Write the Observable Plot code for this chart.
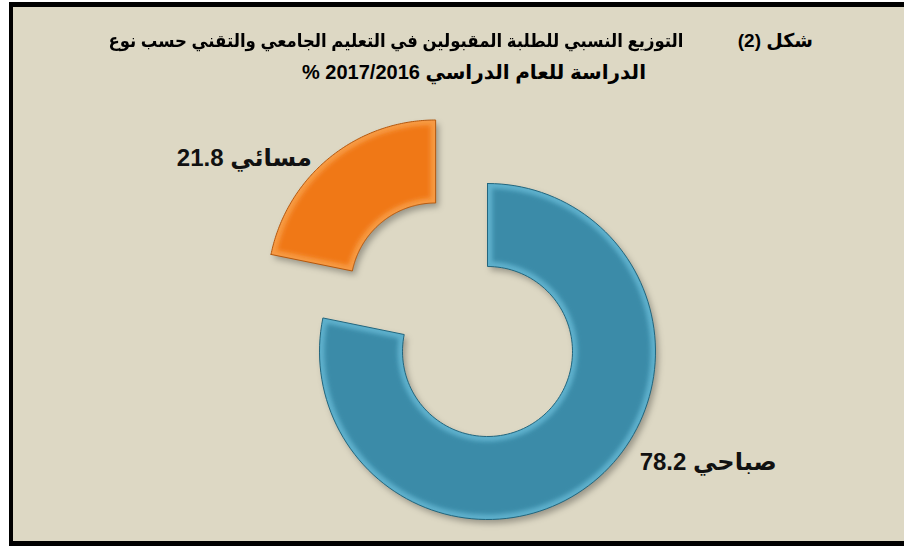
<!DOCTYPE html>
<html><head><meta charset="utf-8">
<script src="https://cdn.jsdelivr.net/npm/d3@7"></script>
<script src="https://cdn.jsdelivr.net/npm/@observablehq/plot@0.6"></script>
<style>
body{margin:0;background:#fff;}
#wrap{position:relative;width:904px;height:546px;overflow:hidden;font-family:"Liberation Sans","DejaVu Sans",sans-serif;}
#frame{position:absolute;left:9px;top:2px;width:900px;height:544px;box-sizing:border-box;border-left:4px solid #000;border-top:5px solid #000;border-bottom:5px solid #000;background:#ddd8c4;}
.t{position:absolute;font-weight:bold;color:#000;white-space:nowrap;direction:rtl;}
#chart{position:absolute;left:0;top:0;}
</style></head><body>
<div id="wrap">
<div id="frame"></div>
<div id="chart"></div>
<div class="t" id="t1a"></div>
<div class="t" id="t1b"></div>
<div class="t" id="t2"></div>
</div>
<script>
// ---- data ----
const categories = ["صباحي", "مسائي"];
const values = [78.2, 21.8];
const figureLabel = "شكل (2)";
const titleLine1 = "التوزيع النسبي للطلبة المقبولين في التعليم الجامعي والتقني حسب نوع";
const titleLine2 = "الدراسة للعام الدراسي 2017/2016 %";
const sliceColors = ["#3a8ba8", "#f07814"];
const edgeLight = ["#5eb0cc", "#f79a45"];
const edgeDark = ["#22667e", "#b5580c"];

// ---- layout ----
const W = 904, H = 546;
const CX = 487, CY = 351, R_OUT = 168, R_IN = 85;
const explode = [0, 82];
const labelLayout = [{angle: 116.7, radius: 247}, {angle: 304.1, radius: 231}];

function place(id, text, css) {
  const el = document.getElementById(id);
  el.textContent = text;
  Object.assign(el.style, css);
  return el;
}
place("t1a", figureLabel, {right: (W - 813) + "px", top: "30px", fontSize: "19px", lineHeight: "22px"});
const t1b = place("t1b", titleLine1, {right: (W - 683) + "px", top: "30px", fontSize: "18px", lineHeight: "22px", transformOrigin: "right center"});
const t2 = place("t2", titleLine2, {left: "474px", top: "60px", fontSize: "20px", lineHeight: "24px"});
// fit widths to the reference title extents
const w1 = t1b.getBoundingClientRect().width;
t1b.style.transform = `scaleX(${575 / w1})`;
const w2 = t2.getBoundingClientRect().width;
t2.style.left = (474 - w2 / 2) + "px";

const rows = categories.map((c, i) => ({cat: c, value: values[i], i}));
const arcs = d3.pie().sort(null).value(d => d.value)(rows);

function center(a) {
  const mid = (a.startAngle + a.endAngle) / 2, e = explode[a.data.i];
  return [CX + e * Math.sin(mid), CY - e * Math.cos(mid)];
}
function ring(a, inset) {
  const [cx, cy] = center(a);
  const ro = R_OUT - inset, ri = R_IN + inset;
  const pts = [];
  const N = 120;
  const ao0 = a.startAngle + inset / ro, ao1 = a.endAngle - inset / ro;
  const ai0 = a.startAngle + inset / ri, ai1 = a.endAngle - inset / ri;
  for (let k = 0; k <= N; k++) {
    const t = ao0 + (ao1 - ao0) * k / N;
    pts.push({x: cx + ro * Math.sin(t), y: cy - ro * Math.cos(t), i: a.data.i});
  }
  for (let k = N; k >= 0; k--) {
    const t = ai0 + (ai1 - ai0) * k / N;
    pts.push({x: cx + ri * Math.sin(t), y: cy - ri * Math.cos(t), i: a.data.i});
  }
  pts.push(pts[0]);
  return pts;
}

const marks = [];
const filterOf = [];
arcs.forEach(a => {
  const i = a.data.i;
  const sh = ring(a, 0).map(p => ({...p, x: p.x + 3, y: p.y + 4}));
  marks.push(Plot.line(sh, {x: "x", y: "y", fill: "#000", fillOpacity: 0.3, stroke: "none"}));
  filterOf.push("url(#shadowBlur)");
  marks.push(Plot.line(ring(a, 0), {x: "x", y: "y", fill: edgeLight[i], stroke: edgeDark[i], strokeWidth: 1}));
  filterOf.push(null);
  marks.push(Plot.line(ring(a, 5), {x: "x", y: "y", fill: sliceColors[i], stroke: "none"}));
  filterOf.push("url(#softBlur)");
});
const labels = arcs.map(a => {
  const [cx, cy] = center(a);
  const L = labelLayout[a.data.i];
  const t = L.angle * Math.PI / 180;
  return {x: cx + L.radius * Math.sin(t), y: cy - L.radius * Math.cos(t), text: a.data.value.toFixed(1) + " " + a.data.cat};
});
marks.push(Plot.text(labels, {x: "x", y: "y", text: "text", fontSize: 24, fontWeight: "bold", fill: "#111", fontFamily: "Liberation Sans, DejaVu Sans, sans-serif"}));
filterOf.push(null);

const svg = Plot.plot({
  width: W, height: H,
  margin: 0,
  x: {domain: [0, W], range: [0, W], axis: null},
  y: {domain: [0, H], range: [0, H], axis: null},
  style: {background: "transparent", overflow: "visible"},
  marks
});
const ns = "http://www.w3.org/2000/svg";
const defs = document.createElementNS(ns, "defs");
defs.innerHTML = '<filter id="shadowBlur" x="-20%" y="-20%" width="140%" height="140%"><feGaussianBlur stdDeviation="3"/></filter>' +
  '<filter id="softBlur" x="-10%" y="-10%" width="120%" height="120%"><feGaussianBlur stdDeviation="2"/></filter>';
svg.insertBefore(defs, svg.firstChild);
const groups = Array.from(svg.children).filter(n => n.tagName.toLowerCase() === "g");
groups.forEach((g, k) => { if (filterOf[k]) g.setAttribute("filter", filterOf[k]); });
document.getElementById("chart").appendChild(svg);
</script>
</body></html>
